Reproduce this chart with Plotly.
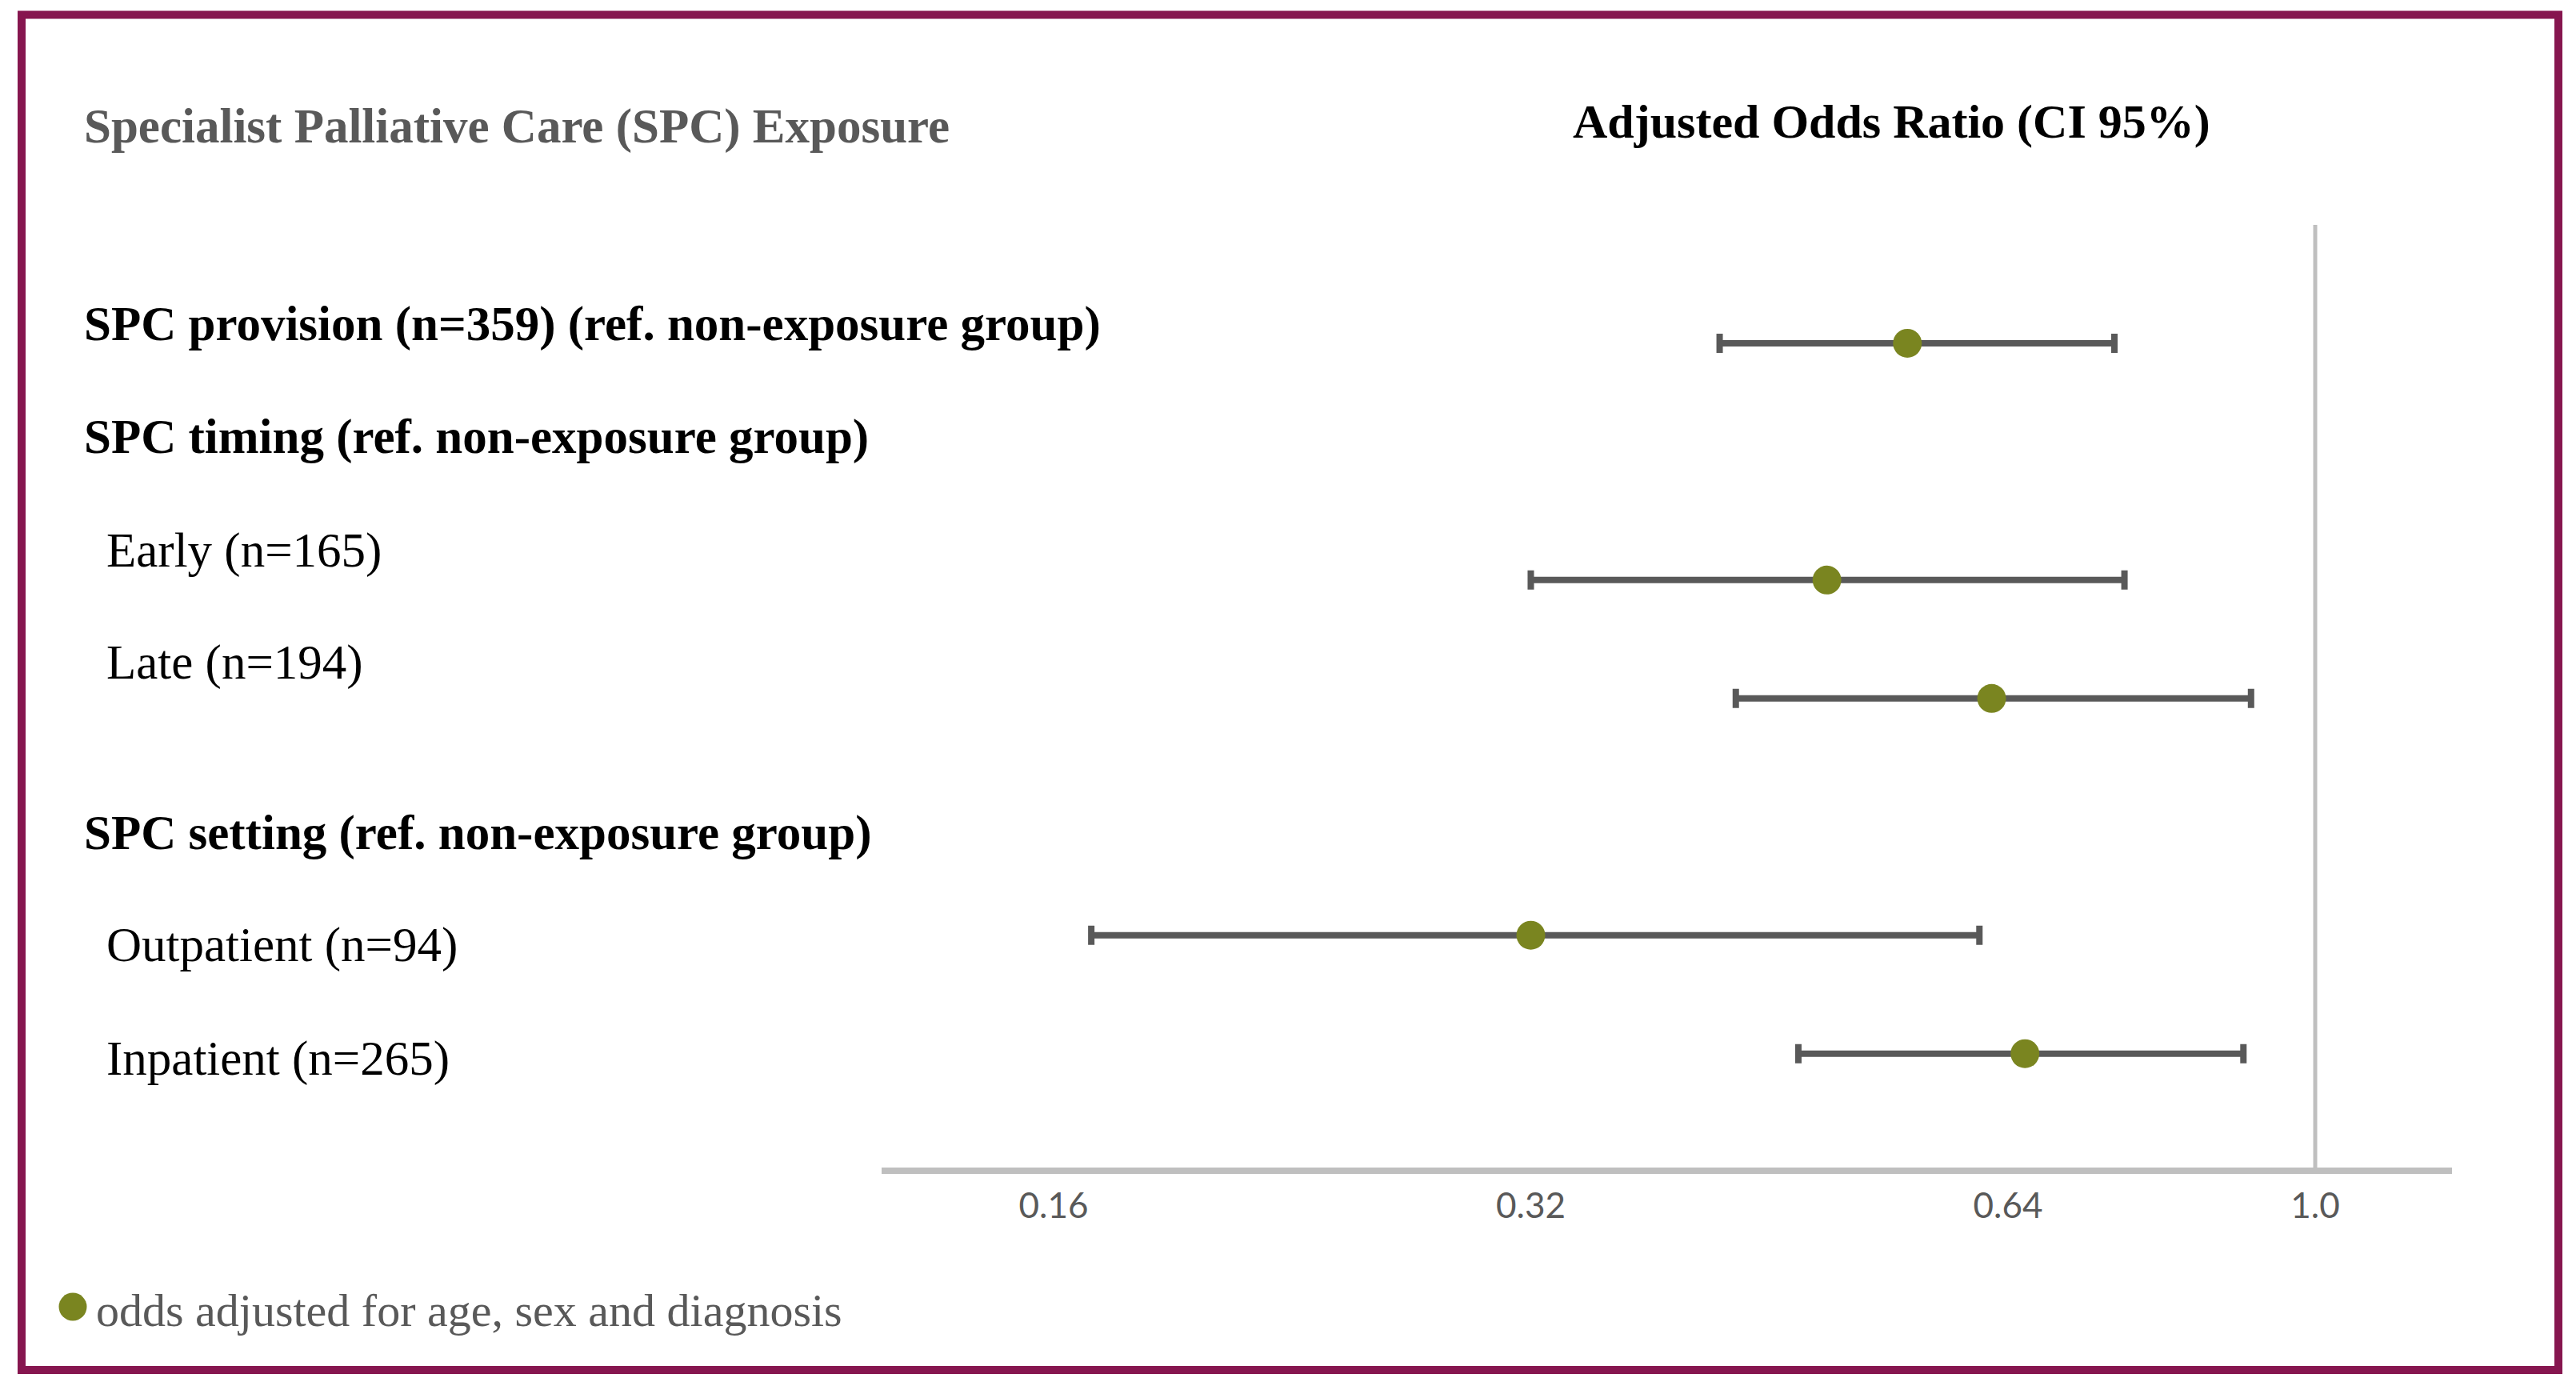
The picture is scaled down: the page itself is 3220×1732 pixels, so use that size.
import plotly.graph_objects as go

# ---------------- data ----------------
row_labels = [
    "SPC provision (n=359) (ref. non-exposure group)",
    "SPC timing (ref. non-exposure group)",
    "Early (n=165)",
    "Late (n=194)",
    "SPC setting (ref. non-exposure group)",
    "Outpatient (n=94)",
    "Inpatient (n=265)",
]
row_is_header = [True, True, False, False, True, False, False]
odds_ratio = [0.553, None, 0.492, 0.625, None, 0.320, 0.656]
ci_low = [0.421, None, 0.320, 0.431, None, 0.169, 0.472]
ci_high = [0.747, None, 0.758, 0.911, None, 0.614, 0.901]

tick_values = [0.16, 0.32, 0.64, 1.0]
tick_labels = ["0.16", "0.32", "0.64", "1.0"]
reference_value = 1.0

title_left = "Specialist Palliative Care (SPC) Exposure"
title_right = "Adjusted Odds Ratio (CI 95%)"
legend_text = "odds adjusted for age, sex and diagnosis"

# ---------------- style / layout ----------------
PAGE_MARGIN = 8           # default body margin of the html page
W, H = 3220 - 2 * PAGE_MARGIN, 1732 - 2 * PAGE_MARGIN
SERIF = "Liberation Serif"
SANS = "Lato"
OLIVE = "#7A8520"
BAR = "#595959"
AXIS_GRAY = "#BFBFBF"
TEXT_GRAY = "#595959"
FRAME = "#86164F"


def px_x(x):
    return (x - PAGE_MARGIN) / W


def px_y(y):
    return 1 - (y - PAGE_MARGIN) / H


plus = [None if o is None else h - o for o, h in zip(odds_ratio, ci_high)]
minus = [None if o is None else o - l for o, l in zip(odds_ratio, ci_low)]

fig = go.Figure()
fig.add_trace(
    go.Scatter(
        x=odds_ratio,
        y=row_labels,
        mode="markers",
        marker=dict(size=36, color=OLIVE, line=dict(width=0)),
        error_x=dict(
            type="data",
            symmetric=False,
            array=plus,
            arrayminus=minus,
            color=BAR,
            thickness=8,
            width=12,
        ),
        showlegend=False,
        name=legend_text,
    )
)

annotations = []
# row labels (separate text column on the left)
label_y_px = [405, 546, 688, 828, 1041, 1181, 1323]
for text, hdr, ypx in zip(row_labels, row_is_header, label_y_px):
    annotations.append(
        dict(
            text=text,
            xref="paper",
            yref="paper",
            x=px_x(103 if hdr else 131),
            y=px_y(ypx),
            xanchor="left",
            yanchor="middle",
            showarrow=False,
            font=dict(family=SERIF, size=61, color="#000000",
                      weight="bold" if hdr else "normal"),
        )
    )

annotations.append(
    dict(text=title_left, xref="paper", yref="paper",
         x=px_x(103), y=px_y(158), xanchor="left", yanchor="middle",
         showarrow=False,
         font=dict(family=SERIF, size=61, color=TEXT_GRAY, weight="bold"))
)
annotations.append(
    dict(text=title_right, xref="paper", yref="paper",
         x=px_x(2364), y=px_y(152), xanchor="center", yanchor="middle",
         showarrow=False,
         font=dict(family=SERIF, size=60, color="#000000", weight="bold"))
)
annotations.append(
    dict(text=legend_text, xref="paper", yref="paper",
         x=px_x(118), y=px_y(1637), xanchor="left", yanchor="middle",
         showarrow=False,
         font=dict(family=SERIF, size=58, color=TEXT_GRAY))
)

shapes = [
    # reference line at OR = 1
    dict(type="line", xref="x", yref="y domain",
         x0=reference_value, x1=reference_value, y0=0, y1=1,
         line=dict(color=AXIS_GRAY, width=5), layer="below"),
    # outer frame
    dict(type="rect", xref="paper", yref="paper",
         x0=px_x(27), x1=px_x(3198), y0=px_y(1712), y1=px_y(18.5),
         line=dict(color=FRAME, width=10), fillcolor="rgba(0,0,0,0)"),
    # legend dot
    dict(type="circle", xref="paper", yref="paper",
         x0=px_x(91 - 17.5), x1=px_x(91 + 17.5),
         y0=px_y(1633 + 17.5), y1=px_y(1633 - 17.5),
         line=dict(width=0), fillcolor=OLIVE),
]

fig.update_layout(
    width=W,
    height=H,
    margin=dict(l=0, r=0, t=0, b=0),
    paper_bgcolor="white",
    plot_bgcolor="white",
    showlegend=False,
    annotations=annotations,
    shapes=shapes,
    xaxis=dict(
        type="log",
        domain=[px_x(1102), px_x(3065)],
        range=[-0.9044, 0.0863],
        autorange=False,
        tickvals=tick_values,
        ticktext=tick_labels,
        ticks="",
        ticklabelstandoff=2,
        tickfont=dict(family=SANS, size=44, color=TEXT_GRAY),
        showgrid=False,
        zeroline=False,
        showline=True,
        linecolor=AXIS_GRAY,
        linewidth=8,
        anchor="y",
    ),
    yaxis=dict(
        type="category",
        categoryorder="array",
        categoryarray=row_labels,
        domain=[px_y(1459), px_y(281)],
        range=[6.962, -1],
        autorange=False,
        showticklabels=False,
        showgrid=False,
        zeroline=False,
        showline=False,
        ticks="",
    ),
)

fig.write_html("out.html")
